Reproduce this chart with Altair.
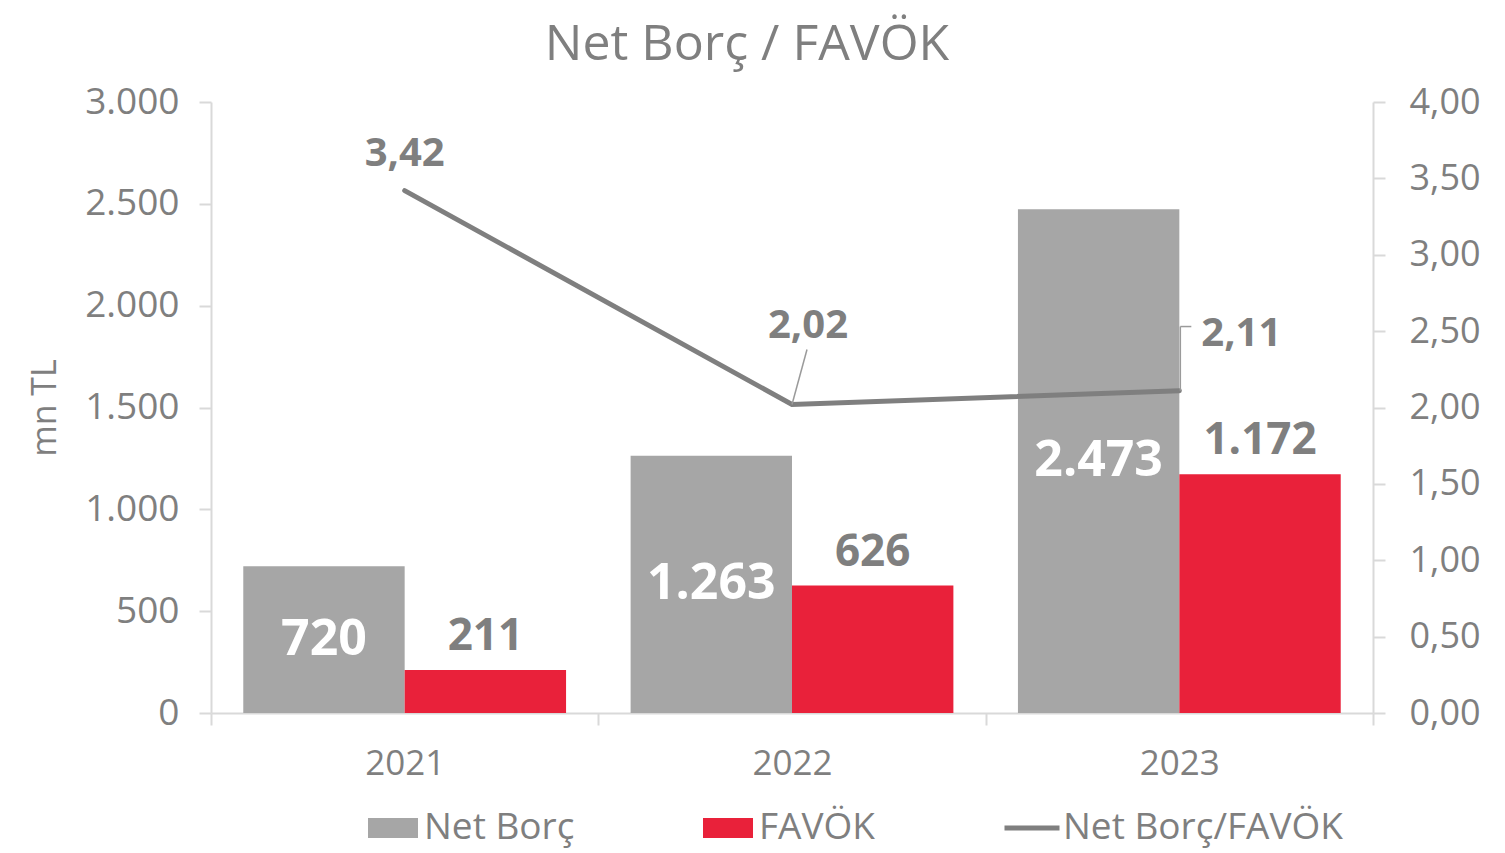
import altair as alt
import pandas as pd

# ---- data ----
years = ["2021", "2022", "2023"]
net_borc = [720, 1263, 2473]
favok = [211, 626, 1172]
ratio = [3.42, 2.02, 2.11]
series = ["Net Borç", "FAVÖK"]
ratio_label = "Net Borç/FAVÖK"
left_ticks = [0, 500, 1000, 1500, 2000, 2500, 3000]
right_ticks = [0, 0.5, 1, 1.5, 2, 2.5, 3, 3.5, 4]

FONT = "Open Sans"
GRAY = "#A6A6A6"
RED = "#E9213A"
LINE = "#7F7F7F"
TXT = "#7F7F7F"
AX = "#D9D9D9"

bars_df = pd.DataFrame({
    "year": years * 2,
    "series": [series[0]] * 3 + [series[1]] * 3,
    "value": net_borc + favok,
})
ratio_df = pd.DataFrame({"year": years, "ratio": ratio, "series": [ratio_label] * 3})

x_axis = alt.Axis(
    title=None, labelFont=FONT, labelFontSize=35, labelColor=TXT, labelAngle=0,
    labelPadding=21, domainColor=AX, domainWidth=2, tickColor=AX, tickWidth=2,
    tickSize=12, tickBand="extent", grid=False,
)
x_enc = alt.X("year:N", sort=years, scale=alt.Scale(paddingInner=0, paddingOuter=0), axis=x_axis)
x_plain = alt.X("year:N", sort=years, axis=x_axis)
xoff = alt.XOffset("series:N", sort=series,
                   scale=alt.Scale(domain=series, paddingInner=0, paddingOuter=0.2))

y_scale = alt.Scale(domain=[0, 3000], nice=False)
r_scale = alt.Scale(domain=[0, 4], nice=False)

left_axis = alt.Axis(
    values=left_ticks, title="mn TL", titleFont=FONT, titleFontSize=34,
    titleFontWeight="normal", titleColor=TXT, titlePadding=22,
    labelFont=FONT, labelFontSize=37, labelColor=TXT, labelPadding=20,
    labelExpr="replace(format(datum.value, ','), ',', '.')",
    domainColor=AX, domainWidth=2, tickColor=AX, tickWidth=2, tickSize=12, grid=False,
)
right_axis = alt.Axis(
    orient="right", values=right_ticks, title=None,
    labelFont=FONT, labelFontSize=36, labelColor=TXT, labelPadding=24,
    labelExpr="replace(format(datum.value, '.2f'), '.', ',')",
    domainColor=AX, domainWidth=2, tickColor=AX, tickWidth=2, tickSize=12, grid=False,
)

base = alt.Chart(bars_df)

bars = base.mark_bar().encode(
    x=x_enc,
    xOffset=xoff,
    y=alt.Y("value:Q", scale=y_scale, axis=left_axis),
    color=alt.Color("series:N", scale=alt.Scale(domain=series, range=[GRAY, RED]),
                    legend=alt.Legend(
                        title=None, orient="none", direction="horizontal",
                        legendX=157, legendY=701, padding=0,
                        symbolType="M-1,-0.4H1V0.4H-1Z", symbolSize=2500,
                        symbolStrokeWidth=0, symbolOpacity=1,
                        labelFont=FONT, labelFontSize=37, labelColor=TXT,
                        labelOffset=6, columnPadding=128, labelLimit=500,
                    )),
)

in_lbl = base.transform_filter(alt.datum.series == series[0]).transform_calculate(
    mid="datum.value / 2",
    lbl="replace(format(datum.value, ','), ',', '.')",
).mark_text(font=FONT, fontWeight="bold", fontSize=50, color="white", baseline="middle").encode(
    x=x_plain, xOffset=alt.XOffset("series:N", sort=series),
    y=alt.Y("mid:Q", scale=y_scale, axis=left_axis),
    text="lbl:N",
)

top_lbl = base.transform_filter(alt.datum.series == series[1]).transform_calculate(
    lbl="replace(format(datum.value, ','), ',', '.')",
).mark_text(font=FONT, fontWeight="bold", fontSize=44, color=TXT, baseline="alphabetic", dy=-20).encode(
    x=x_plain, xOffset=alt.XOffset("series:N", sort=series),
    y=alt.Y("value:Q", scale=y_scale, axis=left_axis),
    text="lbl:N",
)

bar_layer = alt.layer(bars, in_lbl, top_lbl)

rbase = alt.Chart(ratio_df)
line = rbase.mark_line(strokeWidth=5, strokeCap="round").encode(
    x=x_plain,
    y=alt.Y("ratio:Q", scale=r_scale, axis=right_axis),
    color=alt.Color("series:N", scale=alt.Scale(domain=[ratio_label], range=[LINE]),
                    legend=alt.Legend(
                        title=None, orient="none", direction="horizontal",
                        legendX=791, legendY=696, padding=0,
                        symbolType="stroke", symbolSize=3025, symbolStrokeWidth=5,
                        labelFont=FONT, labelFontSize=37, labelColor=TXT, labelOffset=1,
                        labelLimit=500,
                    )),
)


def ratio_text(year, dx, dy):
    return rbase.transform_filter(alt.datum.year == year).transform_calculate(
        lbl="replace(format(datum.ratio, '.2f'), '.', ',')"
    ).mark_text(font=FONT, fontWeight="bold", fontSize=40, color=TXT,
                baseline="alphabetic", dx=dx, dy=dy).encode(
        x=x_plain, y=alt.Y("ratio:Q", scale=r_scale, axis=right_axis), text="lbl:N")


t1 = ratio_text("2021", 0, -25)
t2 = ratio_text("2022", 16, -66)
t3 = ratio_text("2023", 62, -45)

lead_a = rbase.transform_filter(alt.datum.year == "2022").transform_calculate(
    end="datum.ratio + 0.36").mark_rule(color="#9A9A9A", strokeWidth=1.5, x2Offset=15).encode(
    x=x_plain, x2=alt.X2("year"), y=alt.Y("ratio:Q", scale=r_scale, axis=right_axis), y2="end:Q")
lead_b = rbase.transform_filter(alt.datum.year == "2023").transform_calculate(
    end="datum.ratio + 0.42").mark_rule(color="#9A9A9A", strokeWidth=1.5, xOffset=1).encode(
    x=x_plain, y=alt.Y("ratio:Q", scale=r_scale, axis=right_axis), y2="end:Q")
lead_c = rbase.transform_filter(alt.datum.year == "2023").transform_calculate(
    end="datum.ratio + 0.42").mark_rule(color="#9A9A9A", strokeWidth=1.5, xOffset=1, x2Offset=12).encode(
    x=x_plain, x2=alt.X2("year"), y=alt.Y("end:Q", scale=r_scale, axis=right_axis))

line_layer = alt.layer(line, lead_a, lead_b, lead_c, t1, t2, t3)

chart = alt.layer(bar_layer, line_layer).resolve_scale(
    y="independent", color="independent"
).properties(
    width=1162, height=611,
    title=alt.TitleParams("Net Borç / FAVÖK", font=FONT, fontSize=50, fontWeight="normal",
                          color=TXT, anchor="middle", dx=-45, offset=13),
    autosize=alt.AutoSizeParams(type="none"),
    padding={"left": 203, "top": 94, "right": 120, "bottom": 137},
).configure_view(stroke=None)

chart.save("out.html", embed_options={"renderer": "svg", "actions": False})
